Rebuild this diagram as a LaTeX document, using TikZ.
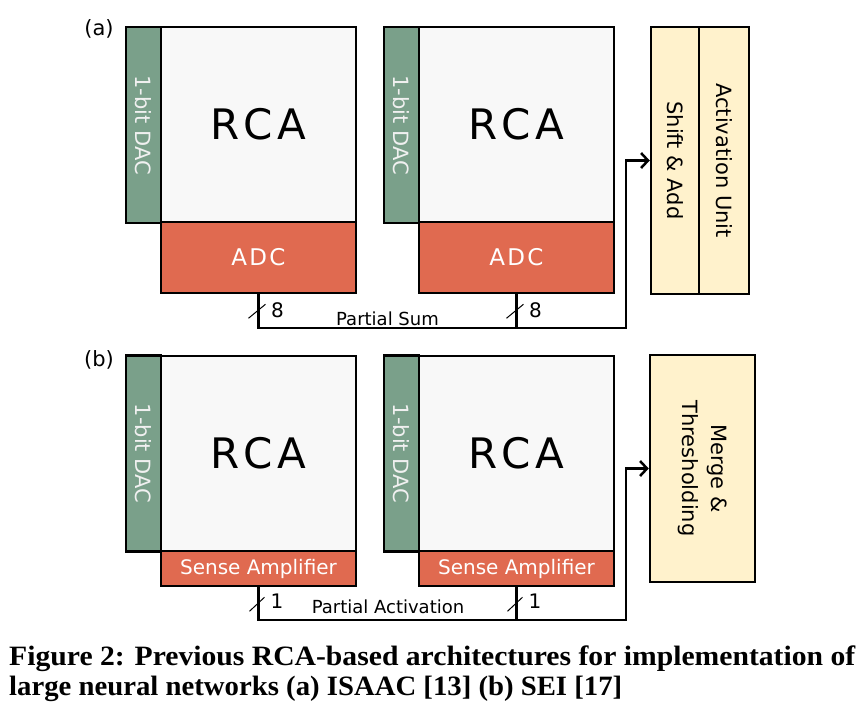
\documentclass[tikz,border=0pt]{standalone}
\usepackage{fontspec}
\usepackage{graphicx}
\setmainfont{DejaVu Sans}
\newfontfamily\capfont{Liberation Serif}
\usetikzlibrary{arrows.meta}
\definecolor{dacgreen}{RGB}{122,160,138}
\definecolor{adcred}{RGB}{224,106,80}
\definecolor{rcagray}{RGB}{248,248,248}
\definecolor{unityellow}{RGB}{255,242,204}
\begin{document}
\begin{tikzpicture}[x=1pt, y=-1pt,
		every node/.style = {inner sep=0pt},
		blk/.style = {draw, rectangle, line width=2.5pt},
		dac/.style = {blk, fill=dacgreen, text=white!94!black, rotate=-90,
			minimum width=196pt, minimum height=35pt, font=\fontsize{21}{25}\selectfont},
		rca/.style = {blk, fill=rcagray, minimum size=195pt,
			font=\fontsize{42}{48}\selectfont\addfontfeature{LetterSpace=12}},
		adc/.style = {blk, fill=adcred, text=white, minimum width=195pt, minimum height=71pt,
			font=\fontsize{23}{26}\selectfont\addfontfeature{LetterSpace=10}},
		sense/.style = {blk, fill=adcred, text=white, minimum width=195pt, minimum height=35pt,
			font=\fontsize{20}{24}\selectfont},
		unit/.style = {blk, fill=unityellow, rotate=-90, align=center,
			font=\fontsize{21}{29}\selectfont},
		bus/.style = {line width=2.5pt},
		slash/.style = {line width=1pt},
		lbl/.style = {font=\fontsize{18}{22}\selectfont},
		bits/.style = {font=\fontsize{20}{22}\selectfont},
		tag/.style = {font=\fontsize{21}{24}\selectfont},
		capline/.style = {anchor=base west, font=\capfont\bfseries\fontsize{28}{32}\selectfont}]
	\useasboundingbox (0,0) rectangle (862,716);
	% (a) ISAAC
	\node[tag] (tagA) at (99,29) {(a)};
	\node[dac] (dacA1) at (143.5,125) {1-bit DAC};
	\node[rca] (rcaA1) at (258.5,124.5) {RCA};
	\node[adc] (adcA1) at (258.5,257.5) {ADC};
	\node[dac] (dacA2) at (401.5,125) {1-bit DAC};
	\node[rca] (rcaA2) at (516.5,124.5) {RCA};
	\node[adc] (adcA2) at (516.5,257.5) {ADC};
	\node[unit, minimum width=267pt, minimum height=48pt] (shift) at (675,160.5) {Shift \& Add};
	\node[unit, minimum width=267pt, minimum height=50pt] (actunit) at (724,160.5) {Activation Unit};
	\coordinate (busA) at (626,328);
	\draw[bus, -{Straight Barb[length=7pt, width=15pt]}] (adcA1.south) |- (busA) |- (shift.south);
	\draw[bus] (adcA2.south) -- (adcA2.south |- busA);
	\draw[slash] ([shift={(-10,24)}]adcA1.south) -- ++(17,-14);
	\draw[slash] ([shift={(-10,24)}]adcA2.south) -- ++(17,-14);
	\node[bits] (wA1) at ([shift={(19,16)}]adcA1.south) {8};
	\node[bits] (wA2) at ([shift={(19,16)}]adcA2.south) {8};
	\node[lbl, anchor=base] (psum) at (387.5,325) {Partial Sum};
	% (b) SEI
	\node[tag] (tagB) at (99,360) {(b)};
	\node[dac] (dacB1) at (143.5,453.5) {1-bit DAC};
	\node[rca] (rcaB1) at (258.5,453.5) {RCA};
	\node[sense] (senseB1) at (258.5,568.5) {Sense Amplifier};
	\node[dac] (dacB2) at (401.5,453.5) {1-bit DAC};
	\node[rca] (rcaB2) at (516.5,453.5) {RCA};
	\node[sense] (senseB2) at (516.5,568.5) {Sense Amplifier};
	\node[unit, minimum width=227pt, minimum height=105pt] (merge) at (702.5,468.5) {Merge \&\\Thresholding};
	\coordinate (busB) at (626,620);
	\draw[bus, -{Straight Barb[length=7pt, width=15pt]}] (senseB1.south) |- (busB) |- (merge.south);
	\draw[bus] (senseB2.south) -- (senseB2.south |- busB);
	\draw[slash] ([shift={(-9,24)}]senseB1.south) -- ++(15,-14);
	\draw[slash] ([shift={(-9,24)}]senseB2.south) -- ++(15,-14);
	\node[bits] (wB1) at ([shift={(18.5,14)}]senseB1.south) {1};
	\node[bits] (wB2) at ([shift={(18.5,14)}]senseB2.south) {1};
	\node[lbl, anchor=base] (pact) at (388,613) {Partial Activation};
	% caption
	\node[capline] (capA) at (9,665) {\resizebox{846pt}{\height}{Figure 2: Previous RCA-based architectures for implementation of}};
	\node[capline] (capB) at (9,695) {\resizebox{613pt}{\height}{large neural networks (a) ISAAC [13] (b) SEI [17]}};
\end{tikzpicture}
\end{document}
